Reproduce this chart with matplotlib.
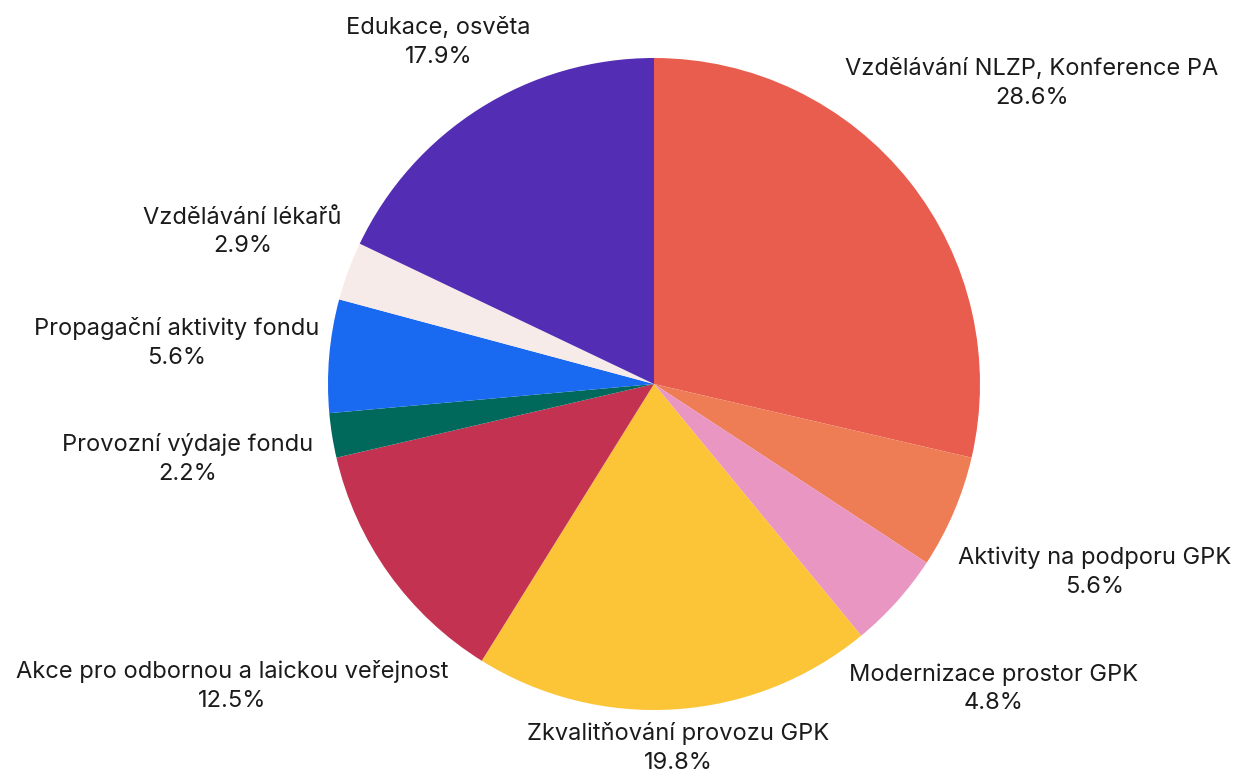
import numpy as np
import matplotlib
matplotlib.use("Agg")
import matplotlib.pyplot as plt

# data (clockwise from 12 o'clock)
labels = [
    "Vzdělávání NLZP, Konference PA",
    "Aktivity na podporu GPK",
    "Modernizace prostor GPK",
    "Zkvalitňování provozu GPK",
    "Akce pro odbornou a laickou veřejnost",
    "Provozní výdaje fondu",
    "Propagační aktivity fondu",
    "Vzdělávání lékařů",
    "Edukace, osvěta",
]
shares = [28.6, 5.6, 4.8, 19.8, 12.5, 2.2, 5.6, 2.9, 17.9]

colors = ["#E95D4E", "#EE7D55", "#E996C2", "#FBC537", "#C43252",
          "#00695C", "#1A69F1", "#F7EBEA", "#532DB3"]
# how far out each label sits (in radii)
label_dist = [1.48, 1.47, 1.40, 1.12, 1.59, 1.45, 1.47, 1.345, 1.24]

plt.rcParams['font.family'] = ['Inter', 'DejaVu Sans']

W, H = 1249, 778
cx, cy, R = 654, 384, 326

fig = plt.figure(figsize=(W / 100, H / 100), dpi=100)
ax = fig.add_axes([0, 0, 1, 1])

wedges, _ = ax.pie(shares, colors=colors, startangle=90, counterclock=False,
                   radius=1, center=(0, 0), frame=True,
                   wedgeprops=dict(linewidth=0))
ax.set_xlim(-cx / R, (W - cx) / R)
ax.set_ylim(-(H - cy) / R, cy / R)
ax.set_aspect('equal')
ax.axis('off')

for w, lab, val, k in zip(wedges, labels, shares, label_dist):
    ang = np.deg2rad((w.theta1 + w.theta2) / 2)
    x, y = k * np.cos(ang), k * np.sin(ang)
    ax.text(x, y, f"{lab}\n{val:.1f}%", ha='center', va='center',
            fontsize=17, color='#1b1b1b', linespacing=1.4)

fig.savefig("out.png", dpi=100)
